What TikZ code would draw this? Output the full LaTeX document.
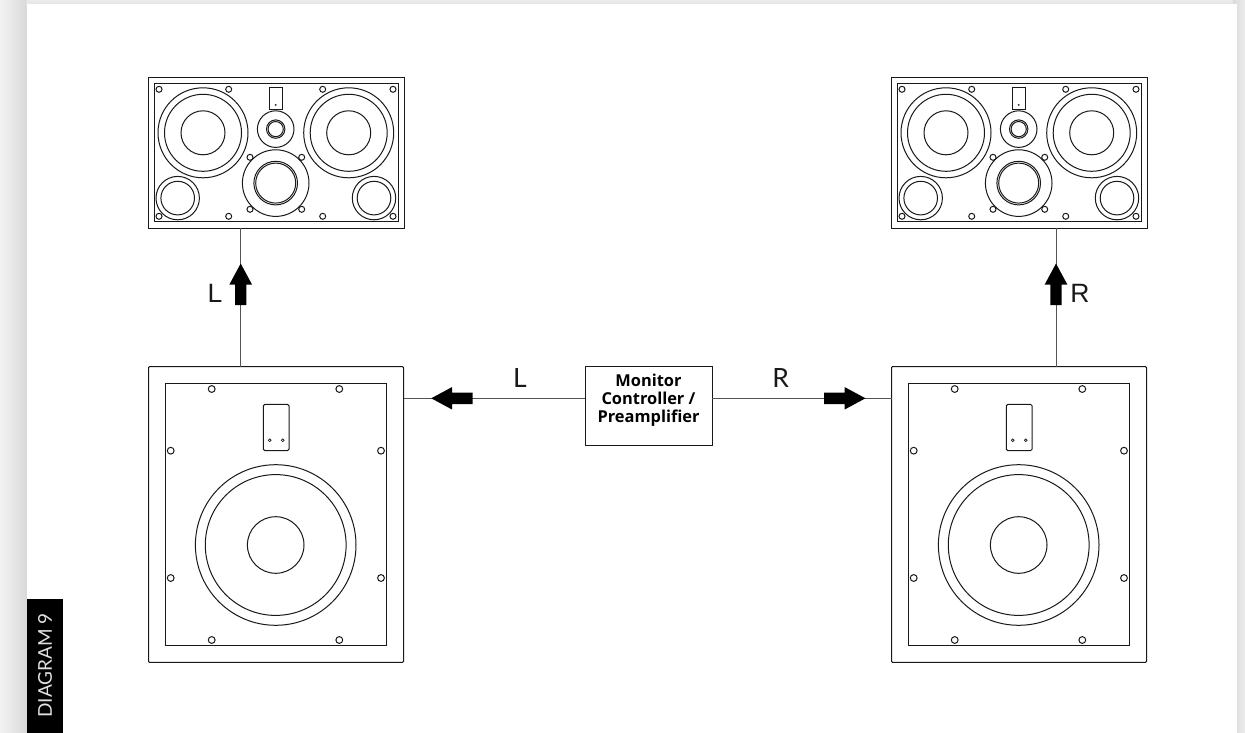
\documentclass[tikz,border=0pt]{standalone}
\usepackage{fontspec}
\setmainfont{Lato}
\newfontfamily\arialish{Liberation Sans}
\newfontfamily\boxfont{Open Sans}
\usetikzlibrary{calc}
\definecolor{ink}{gray}{0.1}
\tikzset{
  x=1pt,y=-1pt,
  ln/.style={draw=ink,line width=1pt},
  ring/.style={ln,fill=none},
  boxnode/.style={ln,rectangle,inner sep=0pt,outer sep=0pt,fill=white},
  wire/.style={draw=ink!75,line width=0.9pt},
  lab/.style={font=\fontsize{26.5}{26.5}\selectfont,text=ink,inner sep=0pt},
  pics/blockarrow/.style={code={
    \fill[black] (0,-5.7) -- (20.5,-5.7) -- (20.5,-11.3) -- (41.5,0) -- (20.5,11.3) -- (20.5,5.7) -- (0,5.7) -- cycle;
  }},
  pics/topspk/.style={code={
    \node[boxnode,minimum width=256pt,minimum height=151pt] (-outer) at (128,75.5) {};
    \node[boxnode,minimum width=244pt,minimum height=138.6pt] (-inner) at (128,75.3) {};
    \foreach \sx/\sy in {11/12,80.7/12,174.7/12,245/12,11/139,80.7/139,174.7/139,245/139,102/80,153.7/80,102/132,153.7/132}
      \draw[ring] (\sx,\sy) circle[radius=3];
    \foreach \wx in {55,200.7}{
      \draw[ring] (\wx,55.5) circle[radius=45];
      \draw[ring] (\wx,55.5) circle[radius=38.5];
      \draw[ring] (\wx,55.5) circle[radius=22];
    }
    \foreach \wx in {29.7,226}{
      \draw[ring] (\wx,120.8) circle[radius=21.7];
      \draw[ring] (\wx,120.8) circle[radius=16.8];
    }
    \draw[ring] (121.3,9.8) rectangle (134.7,31.8);
    \fill[ink] (127.7,27.5) circle[radius=1];
    \draw[ring] (127.7,51.8) circle[radius=18.3];
    \draw[ring] (127.7,51.8) circle[radius=9.2];
    \draw[ring] (127.7,51.8) circle[radius=7.6];
    \draw[ring] (127.7,105.8) circle[radius=33.3];
    \draw[ring] (127.7,105.8) circle[radius=21.8];
    \draw[ring] (127.7,105.8) circle[radius=20];
  }},
  pics/subspk/.style={code={
    \node[boxnode,minimum width=255pt,minimum height=295.7pt,rounded corners=1pt] (-outer) at (127.7,147.8) {};
    \node[boxnode,minimum width=221.7pt,minimum height=262.4pt] (-inner) at (127.7,147.8) {};
    \foreach \sx/\sy in {63.4/22.3,191/22.3,22.4/84,232.7/84,22.4/211.3,232.7/211.3,63.4/273.3,191/273.3}
      \draw[ring] (\sx,\sy) circle[radius=3.4];
    \draw[ring,rounded corners=1.5pt] (115,37.6) rectangle (140.7,84);
    \foreach \sx in {121.4,134.4}
      \draw[ring,line width=0.7pt] (\sx,73.6) circle[radius=1.4];
    \draw[ring] (127.4,178.3) circle[radius=80.3];
    \draw[ring] (127.4,178.3) circle[radius=70.4];
    \draw[ring] (127.4,178.3) circle[radius=28.3];
  }},
}
\begin{document}
\begin{tikzpicture}
\useasboundingbox (0,0) rectangle (1245,733);
% page and its shadow
\fill[black!8] (0,0) rectangle (1245,733);
\shade[left color=white,right color=black!20,draw=none] (-13.25,733) rectangle (39.75,-1);
\shade[top color=black!6,bottom color=black!13,draw=none] (26.5,-2) rectangle (1237,6);
\shade[left color=black!14,right color=black!5,draw=none] (1233,-1) rectangle (1249,734);
\fill[white] (26.5,4) rectangle (1237,734);
% label tab
\node[fill=black,minimum width=36.6pt,minimum height=134pt,inner sep=0pt,outer sep=0pt] (tab) at (45,666) {};
\node[rotate=90,text=black!12,font=\fontsize{19}{19}\selectfont,inner sep=0pt] (tabtext) at (45,665.5) {DIAGRAM 9};
% speakers
\pic (tl) at (148,77.3) {topspk};
\pic (tr) at (891,77.3) {topspk};
\pic (sl) at (148.3,366.7) {subspk};
\pic (sr) at (891.3,366.7) {subspk};
% controller
\node[boxnode,minimum width=127pt,minimum height=79.7pt] (ctrl) at (648.5,406) {};
\node[font=\boxfont\fontsize{16.4}{18}\selectfont\bfseries,align=center,text=black,inner sep=0pt] (ctrltext) at (648.5,400.6) {Monitor\\Controller /\\Preamplifier};
% connectors
\coordinate (lx) at (240.7,300);
\coordinate (rx) at (1056,300);
\coordinate (ly) at (500,398.3);
\draw[wire] (lx |- tl-outer.south) -- (lx |- sl-outer.north);
\draw[wire] (rx |- tr-outer.south) -- (rx |- sr-outer.north);
\draw[wire] (ctrl.west |- ly) -- (sl-outer.east |- ly);
\draw[wire] (ctrl.east |- ly) -- (sr-outer.west |- ly);
% block arrows
\pic[rotate=180] at (472.7,398.3) {blockarrow};
\pic at (824,398.3) {blockarrow};
\pic[rotate=90] at (240.7,305) {blockarrow};
\pic[rotate=90] at (1056,305) {blockarrow};
% labels
\node[lab] (lL) at (520,378.5) {L};
\node[lab] (lR) at (780.7,378.5) {R};
\node[lab,font=\arialish\fontsize{26.5}{26.5}\selectfont] (vL) at (215,293) {L};
\node[lab,font=\arialish\fontsize{26.5}{26.5}\selectfont] (vR) at (1080,293) {R};
\end{tikzpicture}
\end{document}
